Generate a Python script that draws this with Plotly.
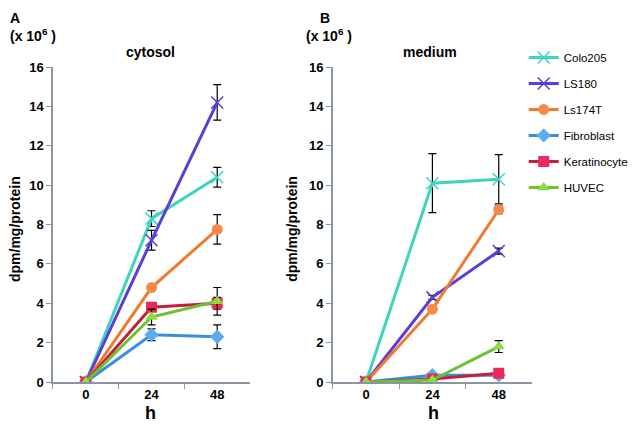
import plotly.graph_objects as go

hours = ["0", "24", "48"]
series = ["Colo205", "LS180", "Ls174T", "Fibroblast", "Keratinocyte", "HUVEC"]

cytosol = {
    "Colo205": [0, 8.3, 10.4],
    "LS180": [0, 7.2, 14.2],
    "Ls174T": [0, 4.8, 7.75],
    "Fibroblast": [0, 2.4, 2.3],
    "Keratinocyte": [0, 3.8, 4.0],
    "HUVEC": [0, 3.3, 4.1],
}
cytosol_err = {
    "Colo205": [0, 0.4, 0.5],
    "LS180": [0, 0.5, 0.9],
    "Ls174T": [0, 0.1, 0.75],
    "Fibroblast": [0, 0.3, 0.6],
    "Keratinocyte": [0, 0.2, 0.3],
    "HUVEC": [0, 0.4, 0.7],
}
medium = {
    "Colo205": [0, 10.1, 10.3],
    "LS180": [0, 4.3, 6.65],
    "Ls174T": [0, 3.7, 8.75],
    "Fibroblast": [0, 0.35, 0.35],
    "Keratinocyte": [0, 0.15, 0.45],
    "HUVEC": [0, 0.1, 1.8],
}
medium_err = {
    "Colo205": [0, 1.5, 1.25],
    "LS180": [0, 0.1, 0.15],
    "Ls174T": [0, 0.1, 0.2],
    "Fibroblast": [0, 0.05, 0.05],
    "Keratinocyte": [0, 0.05, 0.05],
    "HUVEC": [0, 0.05, 0.3],
}

styles = {
    "Colo205": dict(line="#3fd3c0", marker="#3fd3c0", symbol="x-thin-open", size=12),
    "LS180": dict(line="#5b3fd4", marker="#5b3fd4", symbol="x-thin-open", size=12),
    "Ls174T": dict(line="#f27a2e", marker="#f58a4a", symbol="circle", size=11),
    "Fibroblast": dict(line="#3a8ee0", marker="#5aacf2", symbol="diamond", size=11),
    "Keratinocyte": dict(line="#c4203e", marker="#ec2a55", symbol="square", size=11),
    "HUVEC": dict(line="#6cc232", marker="#86e040", symbol="triangle-up", size=11),
}

FONT = "Liberation Sans, Arial, sans-serif"

fig = go.Figure()
for panel, (data, err) in enumerate([(cytosol, cytosol_err), (medium, medium_err)]):
    xa = "x" if panel == 0 else "x2"
    ya = "y" if panel == 0 else "y2"
    for name in series:
        s = styles[name]
        mk = dict(symbol=s["symbol"], size=s["size"], color=s["marker"])
        if "x-thin" in s["symbol"]:
            mk["line"] = dict(color=s["marker"], width=1.5)
        else:
            mk["line"] = dict(color=s["marker"], width=0)
        fig.add_trace(go.Scatter(
            x=hours, y=data[name], name=name, mode="lines+markers",
            xaxis=xa, yaxis=ya, legendgroup=name, showlegend=(panel == 0),
            line=dict(color=s["line"], width=3), marker=mk,
            error_y=dict(type="data", array=err[name], color="black",
                         thickness=1.2, width=4),
        ))

axis_common = dict(showline=True, linecolor="#8a96a3", linewidth=1.5, ticks="outside",
                   tickcolor="#8a96a3", ticklen=5, showgrid=False, zeroline=False,
                   automargin=False,
                   tickfont=dict(family=FONT, size=13, color="black", weight="bold"))

# the page body offsets the figure by 8px, so size it to end at the window edge
fig.update_layout(
    width=632, height=426, margin=dict(l=0, r=0, t=0, b=0, autoexpand=False),
    paper_bgcolor="white", plot_bgcolor="white",
    font=dict(family=FONT, color="black"),
    xaxis=dict(domain=[0.0712, 0.383], type="category", range=[-0.5, 2.5], tickson="boundaries",
               anchor="y", **axis_common),
    yaxis=dict(domain=[0.122, 0.8615], range=[0, 16], dtick=2, anchor="x", **axis_common),
    xaxis2=dict(domain=[0.514, 0.829], type="category", range=[-0.5, 2.5], tickson="boundaries",
                anchor="y2", **axis_common),
    yaxis2=dict(domain=[0.122, 0.8615], range=[0, 16], dtick=2, anchor="x2", **axis_common),
    legend=dict(x=0.816, y=0.918, xanchor="left", yanchor="top",
                font=dict(family=FONT, size=11.5, color="black"),
                tracegroupgap=7, itemwidth=30, bgcolor="rgba(0,0,0,0)"),
)

bold = dict(family=FONT, color="black", weight="bold")
annotations = [
    dict(x=0.0, y=1.0, text="A", font=dict(size=14, **bold)),
    dict(x=0.490, y=1.0, text="B", font=dict(size=14, **bold)),
    dict(x=0.0, y=0.937, text="(x 10<sup>6</sup> )", yanchor="middle", font=dict(size=14, **bold)),
    dict(x=0.468, y=0.937, text="(x 10<sup>6</sup> )", yanchor="middle", font=dict(size=14, **bold)),
    dict(x=0.226, y=0.897, text="cytosol", xanchor="center", yanchor="middle", font=dict(size=14, **bold)),
    dict(x=0.668, y=0.897, text="medium", xanchor="center", yanchor="middle", font=dict(size=14, **bold)),
    dict(x=0.226, y=0.050, text="h", xanchor="center", yanchor="middle", font=dict(size=18, **bold)),
    dict(x=0.674, y=0.050, text="h", xanchor="center", yanchor="middle", font=dict(size=18, **bold)),
    dict(x=0.011, y=0.481, text="dpm/mg/protein", textangle=-90, xanchor="center", yanchor="middle",
         font=dict(size=14, **bold)),
    dict(x=0.449, y=0.481, text="dpm/mg/protein", textangle=-90, xanchor="center", yanchor="middle",
         font=dict(size=14, **bold)),
]
for a in annotations:
    a.setdefault("xanchor", "left")
    a.setdefault("yanchor", "top")
    fig.add_annotation(xref="paper", yref="paper", showarrow=False, **a)

fig.write_html("out.html")
